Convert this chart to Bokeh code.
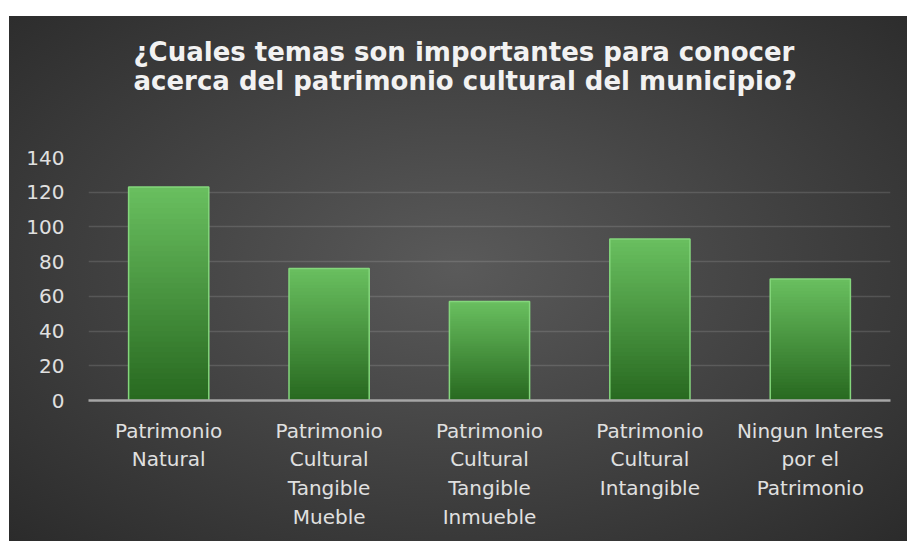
from bokeh.plotting import figure
from bokeh.models import Range1d, FactorRange, FixedTicker, Title
from bokeh.embed import file_html
from bokeh.resources import INLINE

# ---- data ----
categories = [
    "Patrimonio\nNatural",
    "Patrimonio\nCultural\nTangible\nMueble",
    "Patrimonio\nCultural\nTangible\nInmueble",
    "Patrimonio\nCultural\nIntangible",
    "Ningun Interes\npor el\nPatrimonio",
]
values = [123, 76, 57, 93, 70]
y_ticks = [0, 20, 40, 60, 80, 100, 120, 140]
title_text = "¿Cuales temas son importantes para conocer\nacerca del patrimonio cultural del municipio?"

FONT = "DejaVu Sans"

p = figure(
    x_range=FactorRange(*categories, range_padding=0),
    y_range=Range1d(0, 140),
    width=907, height=541,
    output_backend="svg", toolbar_location=None,
    min_border_left=88, min_border_right=17, min_border_top=157, min_border_bottom=141,
    title_location=None,
)
p.background_fill_color = None
p.border_fill_color = None
p.outline_line_color = None
p.styles = {
    "background": "radial-gradient(ellipse farthest-corner at 50% 48%, #5a5a5a 0%, #474747 40%, #2b2b2b 100%) 9px 16px / calc(100% - 9px) calc(100% - 16px) no-repeat, #ffffff"
}

# blank spacer panel between the title and the plot area
p.add_layout(Title(text=" ", text_font_size="10px", standoff=43), "above")

t = Title(text=title_text, align="left", offset=45, text_font=FONT,
          text_font_size="26px", text_font_style="bold", text_color="#f2f2f2",
          text_line_height=0.98, standoff=10)
p.add_layout(t, "above")

# gradient bars: cumulative layers drawn tallest first (fractions of each value)
N = 40
top_rgb = (106, 192, 96)
bot_rgb = (40, 105, 32)
for k in range(N, 0, -1):
    f = k / N
    fm = (k - 0.5) / N
    r = int(bot_rgb[0] + (top_rgb[0] - bot_rgb[0]) * fm)
    g = int(bot_rgb[1] + (top_rgb[1] - bot_rgb[1]) * fm)
    b = int(bot_rgb[2] + (top_rgb[2] - bot_rgb[2]) * fm)
    p.vbar(x=categories, top=[v * f for v in values], width=0.5,
           fill_color=f"#{r:02x}{g:02x}{b:02x}", line_color=None)

p.vbar(x=categories, top=values, width=0.5, fill_color=None,
       line_color="#84d67c", line_width=1.5)

# axes
p.yaxis.ticker = FixedTicker(ticks=y_ticks)
p.yaxis.axis_line_color = None
p.yaxis.major_tick_line_color = None
p.yaxis.major_tick_out = 0
p.yaxis.minor_tick_line_color = None
p.yaxis.major_label_standoff = 24
p.yaxis.major_label_text_font = FONT
p.yaxis.major_label_text_font_size = "20px"
p.yaxis.major_label_text_color = "#e0e0e0"

p.xaxis.axis_line_color = "#a6a6a6"
p.xaxis.axis_line_width = 2.5
p.xaxis.major_tick_line_color = None
p.xaxis.major_tick_out = 0
p.xaxis.minor_tick_line_color = None
p.xaxis.major_label_standoff = 18
p.xaxis.major_label_text_font = FONT
p.xaxis.major_label_text_font_size = "20px"
p.xaxis.major_label_text_color = "#e0e0e0"
p.xaxis.major_label_text_line_height = 1.2
p.xaxis.major_label_text_align = "center"

p.xgrid.grid_line_color = None
p.ygrid.grid_line_color = "#ffffff"
p.ygrid.grid_line_alpha = 0.13
p.ygrid.grid_line_width = 1.5

open("out.html", "w").write(file_html(p, INLINE))
